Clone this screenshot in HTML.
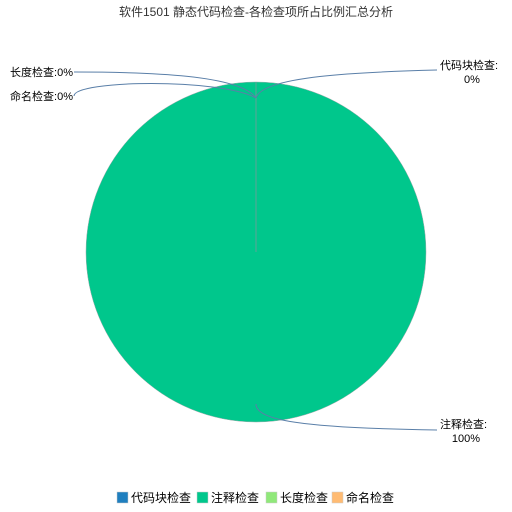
<!DOCTYPE html>
<html><head><meta charset="utf-8"><style>
body{margin:0;background:#fff;}
svg{display:block;font-family:"Liberation Sans","Noto Sans CJK SC",sans-serif;}
</style></head><body>
<svg id="c" width="512" height="512">
<text x="256" y="16" text-anchor="middle" font-size="12" fill="#333">软件1501  静态代码检查-各检查项所占比例汇总分析</text>
<g id="slices"></g>
<g fill="none" stroke="#5a7fa8" stroke-width="1">
<path d="M74,72 C150,72 240,75 256,98" />
<path d="M74,96 C74,80 220,78 256,98" />
<path d="M437,70 C360,72 262,76 256,98" />
<path d="M256,404 C256,420 300,428 437,430" />
</g>
<g font-size="11" fill="#000">
<text x="73" y="76" text-anchor="end">长度检查:0%</text>
<text x="73" y="100" text-anchor="end">命名检查:0%</text>
<text x="440" y="69">代码块检查:</text>
<text x="472" y="83" text-anchor="middle">0%</text>
<text x="440" y="428">注释检查:</text>
<text x="466" y="442" text-anchor="middle">100%</text>
</g>
<g id="legend" font-size="12" fill="#000"></g>
</svg>
<script>
const categories=["代码块检查","注释检查","长度检查","命名检查"];
const values=[0,100,0,0];
const colors=["#1f7fbf","#00c78c","#90e87a","#ffbb73"];
const NS="http://www.w3.org/2000/svg";
const cx=256,cy=252,r=170;
const total=values.reduce((a,b)=>a+b,0);
const g=document.getElementById("slices");
let a=-Math.PI/2;
values.forEach((v,i)=>{
  const frac=total?v/total:0;
  if(frac<=0)return;
  let el;
  if(frac>=0.9999){
    el=document.createElementNS(NS,"circle");
    el.setAttribute("cx",cx);el.setAttribute("cy",cy);el.setAttribute("r",r);
  }else{
    const b=a+frac*2*Math.PI;
    el=document.createElementNS(NS,"path");
    el.setAttribute("d",`M${cx},${cy}L${cx+r*Math.cos(a)},${cy+r*Math.sin(a)}A${r},${r} 0 ${frac>0.5?1:0} 1 ${cx+r*Math.cos(b)},${cy+r*Math.sin(b)}Z`);
    a=b;
  }
  el.setAttribute("fill",colors[i]);
  el.setAttribute("stroke","#9aa");el.setAttribute("stroke-width","0.5");
  
  
  g.appendChild(el);
});
const ln=document.createElementNS(NS,"line");
ln.setAttribute("x1",cx);ln.setAttribute("y1",cy);ln.setAttribute("x2",cx);ln.setAttribute("y2",cy-r);
ln.setAttribute("stroke","#7a9a9a");ln.setAttribute("stroke-width","0.8");


g.appendChild(ln);
const lg=document.getElementById("legend");
const lx=[117,197,266,332];
categories.forEach((c,i)=>{
  const gg=document.createElementNS(NS,"g");
  
  
  const rc=document.createElementNS(NS,"rect");
  rc.setAttribute("x",lx[i]);rc.setAttribute("y",492);rc.setAttribute("width",11);rc.setAttribute("height",11);
  rc.setAttribute("fill",colors[i]);rc.setAttribute("stroke","#ccc");rc.setAttribute("stroke-width","0.5");
  const t=document.createElementNS(NS,"text");
  t.setAttribute("x",lx[i]+14);t.setAttribute("y",502);t.textContent=c;
  gg.appendChild(rc);gg.appendChild(t);lg.appendChild(gg);
});
</script>
</body></html>
